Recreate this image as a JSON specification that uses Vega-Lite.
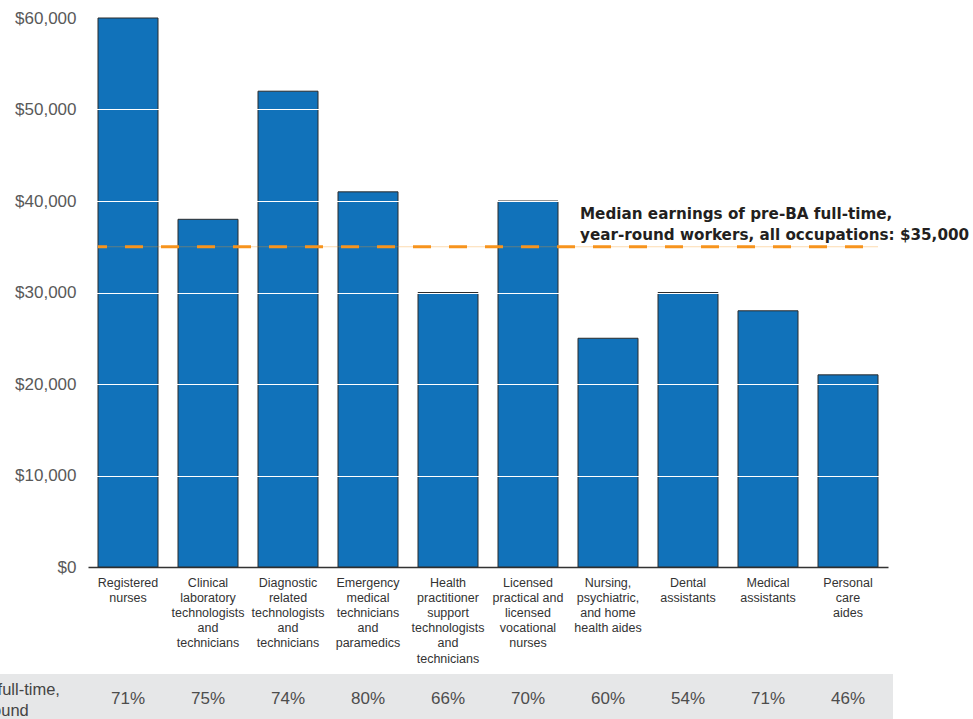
{
  "$schema": "https://vega.github.io/schema/vega-lite/v6.json",
  "width": 893,
  "height": 549,
  "autosize": {"type": "none"},
  "padding": {"left": 0, "top": 18, "right": 80, "bottom": 152},
  "background": "white",
  "config": {"view": {"stroke": null}, "font": "Liberation Sans"},
  "data": {
    "values": [
      {"occupation": "Registered|nurses", "earnings": 60000, "fullTime": 0.71},
      {"occupation": "Clinical|laboratory|technologists|and|technicians", "earnings": 38000, "fullTime": 0.75},
      {"occupation": "Diagnostic|related|technologists|and|technicians", "earnings": 52000, "fullTime": 0.74},
      {"occupation": "Emergency|medical|technicians|and|paramedics", "earnings": 41000, "fullTime": 0.80},
      {"occupation": "Health|practitioner|support|technologists|and|technicians", "earnings": 30000, "fullTime": 0.66},
      {"occupation": "Licensed|practical and|licensed|vocational|nurses", "earnings": 40000, "fullTime": 0.70},
      {"occupation": "Nursing,|psychiatric,|and home|health aides", "earnings": 25000, "fullTime": 0.60},
      {"occupation": "Dental|assistants", "earnings": 30000, "fullTime": 0.54},
      {"occupation": "Medical|assistants", "earnings": 28000, "fullTime": 0.71},
      {"occupation": "Personal|care|aides", "earnings": 21000, "fullTime": 0.46}
    ]
  },
  "layer": [
    {
      "mark": {"type": "bar", "color": "#1172ba", "stroke": "#2b2b2b", "strokeWidth": 1},
      "encoding": {
        "x": {
          "field": "occupation",
          "type": "nominal",
          "scale": {
            "domain": [
              "Registered|nurses",
              "Clinical|laboratory|technologists|and|technicians",
              "Diagnostic|related|technologists|and|technicians",
              "Emergency|medical|technicians|and|paramedics",
              "Health|practitioner|support|technologists|and|technicians",
              "Licensed|practical and|licensed|vocational|nurses",
              "Nursing,|psychiatric,|and home|health aides",
              "Dental|assistants",
              "Medical|assistants",
              "Personal|care|aides"
            ],
            "range": [88, 888],
            "paddingInner": 0.25,
            "paddingOuter": 0.125
          },
          "axis": {
            "title": null,
            "labelExpr": "split(datum.label, '|')",
            "labelAngle": 0,
            "ticks": false,
            "domainColor": "#333333",
            "domainWidth": 1.5,
            "labelFont": "Liberation Sans",
            "labelFontSize": 12.5,
            "labelLineHeight": 15.2,
            "labelColor": "#333333",
            "labelPadding": 9,
            "labelLimit": 0
          }
        },
        "y": {
          "field": "earnings",
          "type": "quantitative",
          "scale": {"domain": [0, 60000], "nice": false},
          "axis": {
            "title": null,
            "values": [0, 10000, 20000, 30000, 40000, 50000, 60000],
            "format": "$,.0f",
            "offset": -88,
            "domain": false,
            "ticks": false,
            "labelPadding": 12,
            "labelFont": "Liberation Sans",
            "labelFontSize": 17,
            "labelColor": "#595959",
            "grid": true,
            "gridColor": "white",
            "gridWidth": 1.2,
            "gridOpacity": {"condition": {"test": "datum.value === 0 || datum.value === 60000", "value": 0}, "value": 1},
            "zindex": 1
          }
        }
      }
    },
    {
      "data": {"values": [{"row": "Share full-time, year-round"}]},
      "mark": {"type": "rect", "color": "#e6e7e8"},
      "encoding": {
        "y": {"datum": -11700, "type": "quantitative"},
        "y2": {"datum": -17500}
      }
    },
    {
      "data": {"values": [{"row": "Share full-time, year-round"}]},
      "mark": {"type": "text", "align": "left", "baseline": "middle", "fontSize": 16.5, "lineHeight": 21, "color": "#444444", "dx": -149, "text": ["Share full-time,", "year-round"]},
      "encoding": {
        "x": {"datum": "Registered|nurses", "type": "nominal", "bandPosition": 0},
        "y": {"datum": -13388, "type": "quantitative"}
      }
    },
    {
      "mark": {"type": "text", "baseline": "middle", "align": "center", "fontSize": 17, "color": "#4d4d4d"},
      "encoding": {
        "x": {"field": "occupation", "type": "nominal"},
        "y": {"datum": -14426, "type": "quantitative"},
        "text": {"field": "fullTime", "type": "quantitative", "format": ".0%"}
      }
    },
    {
      "data": {"values": [{"label": "median"}]},
      "mark": {"type": "rule", "color": "#f7941d", "strokeWidth": 1, "opacity": 0.35},
      "encoding": {
        "x": {"datum": "Registered|nurses", "type": "nominal", "bandPosition": 0},
        "x2": {"datum": "Personal|care|aides", "bandPosition": 1},
        "y": {"datum": 35000, "type": "quantitative"}
      }
    },
    {
      "data": {"values": [{"label": "median"}]},
      "mark": {"type": "rule", "color": "#f7941d", "strokeWidth": 3, "strokeDash": [18, 18], "strokeDashOffset": 9},
      "encoding": {
        "x": {"datum": "Registered|nurses", "type": "nominal", "bandPosition": 0},
        "x2": {"datum": "Personal|care|aides", "bandPosition": 1},
        "y": {"datum": 35000, "type": "quantitative"}
      }
    },
    {
      "data": {"values": [{"label": "median"}]},
      "mark": {
        "type": "text",
        "align": "left",
        "baseline": "bottom",
        "font": "DejaVu Sans",
        "fontWeight": "bold",
        "fontSize": 15.2,
        "lineHeight": 21,
        "color": "#231f20",
        "dx": 2,
        "dy": -25,
        "text": ["Median earnings of pre-BA full-time,", "year-round workers, all occupations: $35,000"]
      },
      "encoding": {
        "x": {"datum": "Nursing,|psychiatric,|and home|health aides", "type": "nominal", "bandPosition": 0},
        "y": {"datum": 35000, "type": "quantitative"}
      }
    }
  ]
}
